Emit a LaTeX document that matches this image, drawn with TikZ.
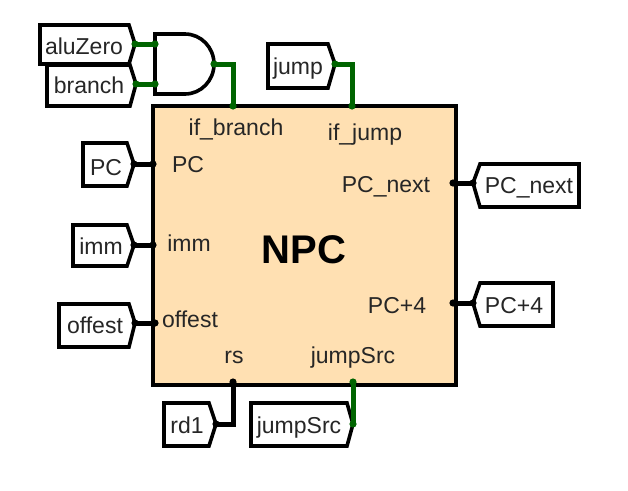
\documentclass[tikz,border=0pt]{standalone}
\usepackage{fontspec}
\setmainfont{Liberation Sans}
\definecolor{wiregreen}{RGB}{0,100,0}
\definecolor{blockfill}{RGB}{255,224,178}
\tikzset{
  pinlabel/.style={anchor=base,inner sep=0pt,font=\fontsize{23}{23}\selectfont,text=black!85},
  tunnelbox/.style={draw=black,fill=white,line width=3.6pt,miter limit=10},
  buswire/.style={draw=black,line width=5pt,line join=miter},
  flagwire/.style={draw=wiregreen,line width=5pt,line join=miter},
}
% Pentagonal tunnel pointing right: #1 name, #2 left, #3 right, #4 tip point, #5 top, #6 bottom, #7 label x, #8 baseline, #9 text
\newcommand{\tunnelright}[9]{
  \draw[tunnelbox] (#2,#5) -- (#3,#5) -- (#4) -- (#3,#6) -- (#2,#6) -- cycle;
  \coordinate (#1-tip) at (#4);
  \node[pinlabel] (#1) at (#7,#8) {#9};
}
% The same tunnel pointing left, towards the block
\newcommand{\tunnelleft}[9]{
  \draw[tunnelbox] (#2,#5) -- (#3,#5) -- (#3,#6) -- (#2,#6) -- (#4) -- cycle;
  \coordinate (#1-tip) at (#4);
  \node[pinlabel] (#1) at (#7,#8) {#9};
}
\begin{document}
\begin{tikzpicture}[x=1pt,y=-1pt]
\useasboundingbox (0,0) rectangle (628,490);

% NPC block
\draw[draw=black,fill=blockfill,line width=4pt] (153,106) rectangle (456,385);
\coordinate (pin-branch) at (233,106);
\coordinate (pin-jump) at (352,106);
\coordinate (pin-pc) at (153,164);
\coordinate (pin-imm) at (153,245);
\coordinate (pin-offest) at (155,323);
\coordinate (pin-rs) at (233,382);
\coordinate (pin-jumpsrc) at (353,382);
\coordinate (pin-next) at (453,183);
\coordinate (pin-plus) at (453,303);

% Signal tunnels
\tunnelright{aluZero}{40}{129}{135,44}{25}{64}{84}{54}{aluZero}
\tunnelright{branch}{47}{130}{136,84}{65}{106}{89}{93}{branch}
\tunnelright{jump}{268}{328}{335,64}{44}{88}{298}{74}{jump}
\tunnelright{pcin}{83}{127}{134,164}{143}{186}{106}{175}{PC}
\tunnelright{immin}{73}{127}{134,245}{225}{266}{101}{254}{imm}
\tunnelright{offestin}{59}{129}{135,323}{304}{347}{95}{333}{offest}
\tunnelright{rdone}{164}{209}{216,424}{403}{446}{187}{433}{rd1}
\tunnelright{jumpsrcin}{251}{347}{353,424}{403}{446}{299}{433}{jumpSrc}
\tunnelleft{pcnext}{480}{579}{473,183}{164}{207}{529}{193}{PC\_next}
\tunnelleft{pcplus}{480}{553}{473,303}{283}{326}{514}{313}{PC+4}

% AND gate
\coordinate (and-a) at (155,44);
\coordinate (and-b) at (155,84);
\coordinate (and-out) at (214,64);
\draw[draw=black,fill=white,line width=3.6pt]
  (155,34) -- (185,34)
  .. controls (201,34) and (214,47.4) .. (214,64)
  .. controls (214,80.6) and (201,94) .. (185,94)
  -- (155,94) -- cycle;

% Wires
\draw[flagwire] (aluZero-tip) -- (and-a);
\draw[flagwire] (branch-tip) -- (and-b);
\draw[flagwire] (and-out) -| (pin-branch);
\draw[flagwire] (jump-tip) -| (pin-jump);
\draw[flagwire] (jumpsrcin-tip) -- (pin-jumpsrc);
\draw[buswire] (pcin-tip) -- (pin-pc);
\draw[buswire] (immin-tip) -- (pin-imm);
\draw[buswire] (offestin-tip) -- (pin-offest);
\draw[buswire] (rdone-tip) -| (pin-rs);
\draw[buswire] (pcnext-tip) -- (pin-next);
\draw[buswire] (pcplus-tip) -- (pin-plus);

% Connection dots
\foreach \p in {aluZero-tip,branch-tip,and-a,and-b,and-out,pin-branch,jump-tip,pin-jump,jumpsrcin-tip,pin-jumpsrc}
  \fill[wiregreen] (\p) circle[radius=3.6];
\foreach \p in {pcin-tip,immin-tip,offestin-tip,rdone-tip,pcnext-tip,pcplus-tip,pin-pc,pin-imm,pin-offest,pin-rs,pin-next,pin-plus}
  \fill[black] (\p) circle[radius=3.6];

% Block pin labels
\node[pinlabel] (l-ifbranch) at (236,135) {if\_branch};
\node[pinlabel] (l-ifjump) at (365,140) {if\_jump};
\node[pinlabel] (l-pc) at (188,172) {PC};
\node[pinlabel] (l-next) at (386,192) {PC\_next};
\node[pinlabel] (l-imm) at (189,251) {imm};
\node[pinlabel] (l-plus) at (397,313) {PC+4};
\node[pinlabel] (l-offest) at (190,327) {offest};
\node[pinlabel] (l-rs) at (234,363) {rs};
\node[pinlabel] (l-jumpsrc) at (353,363) {jumpSrc};
\node[anchor=base,inner sep=0pt,font=\fontsize{40}{40}\selectfont\bfseries] (title) at (304,263) {NPC};
\end{tikzpicture}
\end{document}
